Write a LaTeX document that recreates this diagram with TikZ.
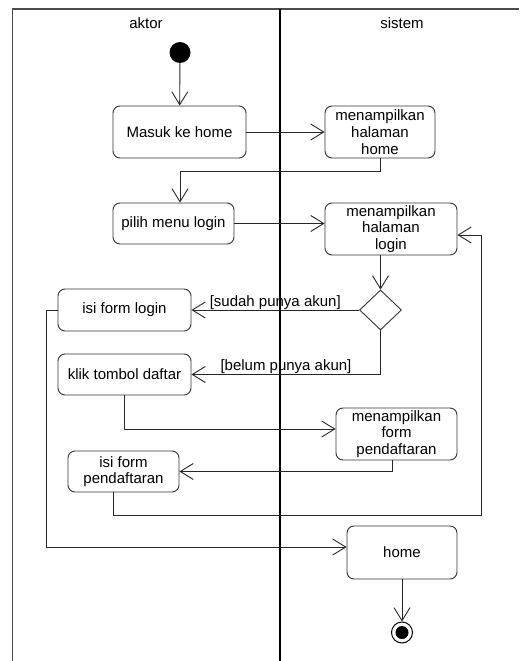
\documentclass[tikz,border=0pt]{standalone}
\usepackage{fontspec}
\setmainfont{Liberation Sans}
\usetikzlibrary{arrows.meta,shapes.geometric,positioning}

\begin{document}
\begin{tikzpicture}
	[x=1pt,y=-1pt,font=\fontsize{15}{16.7}\selectfont,
	aksi/.style={draw=black!80,rounded corners=7pt,align=center,inner sep=0pt,line width=0.9pt},
	arr/.style={draw=black!85,line width=0.9pt,-{Straight Barb[length=13pt,width=16pt,line width=0.9pt]}},
	syarat/.style={anchor=base,yshift=4pt,inner sep=0pt}]
	\useasboundingbox (0,0) rectangle (521,661);
	
	\draw[line width=1.4pt,black!70] (12.5,661) -- (12.5,9) -- (519,9);
	\draw[line width=2pt] (279.5,9) -- (279.5,661);
	\node (aktor) at (146,23) {aktor};
	\node (sistem) at (402,23) {sistem};
	
	\node[circle,fill,minimum size=21pt,inner sep=0pt] (mulai) at (180,52.5) {};
	\node[aksi,minimum width=133pt,minimum height=52pt] (masuk) at (179.5,132) {Masuk ke home};
	\node[aksi,minimum width=110pt,minimum height=52pt] (tampilhome) at (380,132) {menampilkan\\halaman\\home};
	\node[aksi,minimum width=121pt,minimum height=41pt] (pilih) at (173.5,223.5) {pilih menu login};
	\node[aksi,minimum width=132pt,minimum height=52pt] (tampillogin) at (391,229) {menampilkan\\halaman\\login};
	\node[diamond,draw=black!80,line width=0.9pt,minimum width=42pt,minimum height=40pt,inner sep=0pt] (cek) at (380.5,310) {};
	\node[aksi,minimum width=133pt,minimum height=42pt] (isilogin) at (124.5,310) {isi form login};
	\node[aksi,minimum width=133pt,minimum height=41pt] (klik) at (124.5,374.5) {klik tombol daftar};
	\node[aksi,minimum width=121pt,minimum height=52pt] (tampilform) at (396.5,434) {menampilkan\\form\\pendaftaran};
	\node[aksi,minimum width=111pt,minimum height=41pt] (isiform) at (123.5,471.5) {isi form\\pendaftaran};
	\node[aksi,minimum width=110pt,minimum height=53pt] (home) at (402,552.5) {home};
	\node[circle,draw,line width=1pt,minimum size=21pt,inner sep=0pt] (selesai) at (402,632.5) {};
	\fill (selesai.center) circle (6.5pt);
	
	\coordinate (balik) at (481,515);
	\coordinate (kiri) at (46,547);
	
	\draw[arr] (mulai) -- (masuk);
	\draw[arr] (masuk.east) -- (tampilhome.west);
	\draw[arr] (tampilhome.south) -- ++(0,13) -| ([xshift=6.5pt]pilih.north);
	\draw[arr] (pilih.east) -- (pilih.east -| tampillogin.west);
	\draw[arr] (cek.north |- tampillogin.south) -- (cek.north);
	\draw[arr] (cek.west) -- (isilogin.east) node[syarat,pos=0.5] {[sudah punya akun]};
	\draw[arr] (cek.south) |- (klik.east) node[syarat,pos=0.75] {[belum punya akun]};
	\draw[arr] (klik.south) |- ([yshift=5pt]tampilform.west);
	\draw[arr] ([xshift=-4.5pt]tampilform.south) |- (isiform.east);
	\draw[arr] ([xshift=-10.5pt]isiform.south) |- (balik) |- ([yshift=-6pt]tampillogin.east);
	\draw[arr] (isilogin.west) -| (kiri) -- ([yshift=5.5pt]home.west);
	\draw[arr] (home) -- (selesai);
\end{tikzpicture}
\end{document}
